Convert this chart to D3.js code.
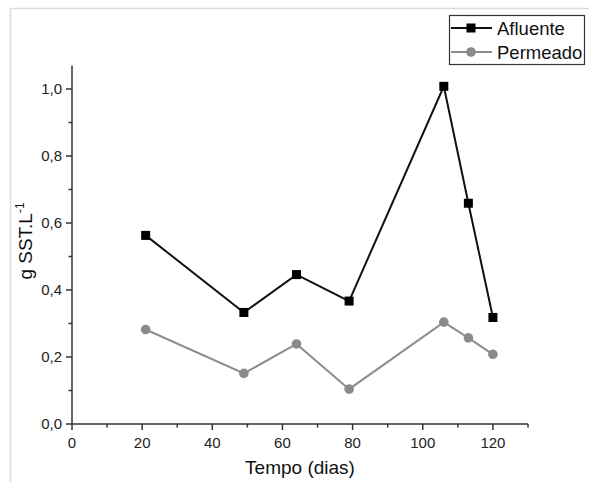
<!DOCTYPE html>
<html>
<head>
<meta charset="utf-8">
<script src="https://cdn.jsdelivr.net/npm/d3@7"></script>
<style>
  html, body { margin: 0; padding: 0; background: #fff; }
  svg { display: block; }
  text { font-family: "Liberation Sans", Arial, sans-serif; }
</style>
</head>
<body>
<svg id="chart" width="589" height="482"></svg>
<script>
// ---- data ----
const days = [21, 49, 64, 79, 106, 113, 120];
const afluente = [0.563, 0.333, 0.446, 0.367, 1.008, 0.659, 0.318];
const permeado = [0.282, 0.151, 0.239, 0.104, 0.304, 0.257, 0.208];
const xTicks = [0, 20, 40, 60, 80, 100, 120];
const yTicks = [0.0, 0.2, 0.4, 0.6, 0.8, 1.0];
const seriesNames = ["Afluente", "Permeado"];

const svg = d3.select("#chart");
const W = 589, H = 482;

// frame lines of the screenshot
svg.append("line").attr("x1", 10).attr("x2", W).attr("y1", 8.5).attr("y2", 8.5)
  .attr("stroke", "#dcdcdc").attr("stroke-width", 1.5);
svg.append("line").attr("x1", 10.5).attr("x2", 10.5).attr("y1", 8).attr("y2", H)
  .attr("stroke", "#dcdcdc").attr("stroke-width", 1.5);

const x = d3.scaleLinear().domain([0, 130]).range([72, 528]);
const y = d3.scaleLinear().domain([0, 1.07]).range([424, 424 - 1.07 * 335]);

const fmt = d => d3.format(".1f")(d).replace(".", ",");

// x axis
const gx = svg.append("g").attr("transform", `translate(0,${y(0)})`);
gx.append("line").attr("x1", x(0)).attr("x2", x(130)).attr("stroke", "#333").attr("stroke-width", 1.5);
gx.selectAll(".minor").data(d3.range(10, 131, 20)).join("line")
  .attr("x1", d => x(d)).attr("x2", d => x(d)).attr("y1", 0).attr("y2", 3.5)
  .attr("stroke", "#333").attr("stroke-width", 1.5);
gx.selectAll(".major").data(xTicks).join("line")
  .attr("x1", d => x(d)).attr("x2", d => x(d)).attr("y1", 0).attr("y2", 6)
  .attr("stroke", "#333").attr("stroke-width", 1.5);
gx.selectAll("text").data(xTicks).join("text")
  .attr("x", d => x(d)).attr("y", 24).attr("text-anchor", "middle")
  .attr("font-size", 15).attr("fill", "#222").text(d => d);

// y axis
const gy = svg.append("g").attr("transform", `translate(${x(0)},0)`);
gy.append("line").attr("y1", y(0)).attr("y2", y(1.07)).attr("stroke", "#333").attr("stroke-width", 1.5);
gy.selectAll(".minor").data([0.1, 0.3, 0.5, 0.7, 0.9]).join("line")
  .attr("y1", d => y(d)).attr("y2", d => y(d)).attr("x1", 0).attr("x2", -3.5)
  .attr("stroke", "#333").attr("stroke-width", 1.5);
gy.selectAll(".major").data(yTicks).join("line")
  .attr("y1", d => y(d)).attr("y2", d => y(d)).attr("x1", 0).attr("x2", -6)
  .attr("stroke", "#333").attr("stroke-width", 1.5);
gy.selectAll("text").data(yTicks).join("text")
  .attr("x", -10).attr("y", d => y(d)).attr("dy", "0.35em").attr("text-anchor", "end")
  .attr("font-size", 15).attr("fill", "#222").text(fmt);

// axis titles
svg.append("text").attr("x", 300).attr("y", 474).attr("text-anchor", "middle")
  .attr("font-size", 19).attr("fill", "#111").text("Tempo (dias)");
const yl = svg.append("text").attr("transform", `translate(32,${241}) rotate(-90)`)
  .attr("text-anchor", "middle").attr("font-size", 19).attr("fill", "#111");
yl.append("tspan").text("g SST.L");
yl.append("tspan").attr("font-size", 12).attr("dy", -8).text("-1");

// series
const line = d3.line().x(d => x(d[0])).y(d => y(d[1]));
const dA = days.map((d, i) => [d, afluente[i]]);
const dP = days.map((d, i) => [d, permeado[i]]);

svg.append("path").datum(dP).attr("d", line).attr("fill", "none")
  .attr("stroke", "#8c8c8c").attr("stroke-width", 2);
svg.selectAll(".pm").data(dP).join("circle").attr("class", "pm")
  .attr("cx", d => x(d[0])).attr("cy", d => y(d[1])).attr("r", 4.8).attr("fill", "#8a8a8a");

svg.append("path").datum(dA).attr("d", line).attr("fill", "none")
  .attr("stroke", "#111").attr("stroke-width", 2);
const s = 9;
svg.selectAll(".am").data(dA).join("rect").attr("class", "am")
  .attr("x", d => x(d[0]) - s / 2).attr("y", d => y(d[1]) - s / 2)
  .attr("width", s).attr("height", s).attr("fill", "#000");

// legend
const lg = svg.append("g");
lg.append("rect").attr("x", 449.5).attr("y", 15.5).attr("width", 135).attr("height", 49)
  .attr("fill", "#fff").attr("stroke", "#333").attr("stroke-width", 1.2);
const lyA = 28, lyP = 52;
lg.append("line").attr("x1", 451).attr("x2", 492).attr("y1", lyA).attr("y2", lyA)
  .attr("stroke", "#111").attr("stroke-width", 2);
lg.append("rect").attr("x", 471 - s / 2).attr("y", lyA - s / 2).attr("width", s).attr("height", s).attr("fill", "#000");
lg.append("line").attr("x1", 451).attr("x2", 492).attr("y1", lyP).attr("y2", lyP)
  .attr("stroke", "#8c8c8c").attr("stroke-width", 2);
lg.append("circle").attr("cx", 471).attr("cy", lyP).attr("r", 4.8).attr("fill", "#8a8a8a");
lg.selectAll("text").data(seriesNames).join("text")
  .attr("x", 497).attr("y", (d, i) => [lyA, lyP][i]).attr("dy", "0.36em")
  .attr("font-size", 18.5).attr("fill", "#111").text(d => d);
</script>
</body>
</html>
